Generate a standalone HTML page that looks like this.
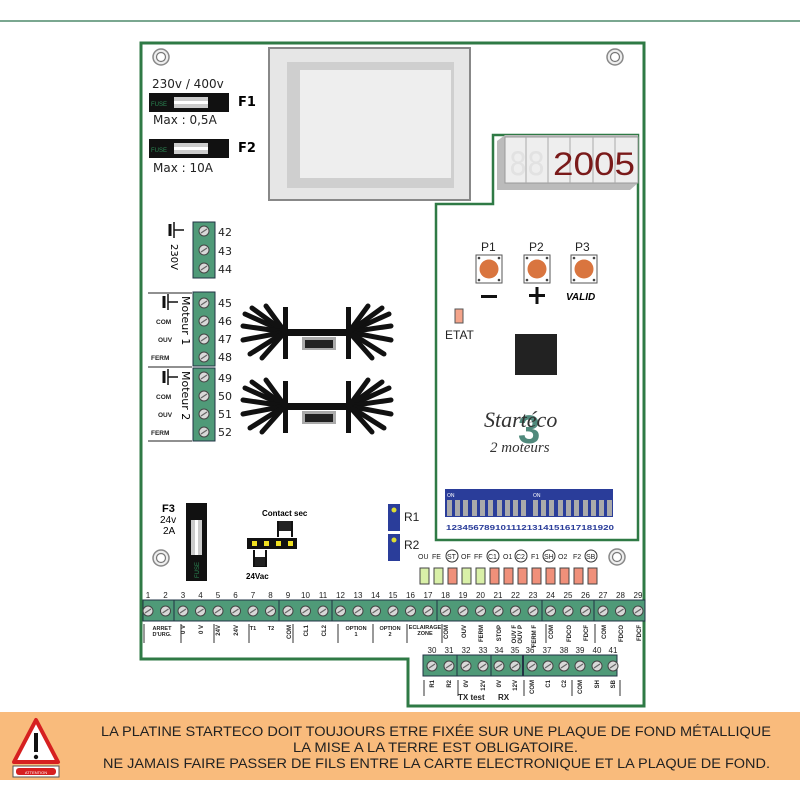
<!DOCTYPE html>
<html><head><meta charset="utf-8"><style>
html,body{margin:0;padding:0;background:#fff}
svg{display:block;font-family:"Liberation Sans",sans-serif}
.m{font-family:"DejaVu Sans",sans-serif}
</style></head><body>
<svg width="800" height="800" viewBox="0 0 800 800" xmlns="http://www.w3.org/2000/svg">
<defs>
<g id="scr"><circle r="5" fill="#d8d8d8" stroke="#444" stroke-width="1"/><line x1="-3" y1="2" x2="3" y2="-2" stroke="#666" stroke-width="1.2"/></g>
<g id="hole"><circle r="8" fill="#eee" stroke="#888" stroke-width="1.5"/><circle r="4.5" fill="#fff" stroke="#777" stroke-width="1.2"/></g>
<g id="btn"><rect x="-13" y="-14" width="26" height="28" fill="#fff" stroke="#555"/><circle cx="-10" cy="-11" r="1.3" fill="#444"/><circle cx="10" cy="-11" r="1.3" fill="#444"/><circle cx="-10" cy="11" r="1.3" fill="#444"/><circle cx="10" cy="11" r="1.3" fill="#444"/><circle r="9.5" fill="#d9753f"/></g>
<g id="hs">
<rect x="283" y="307" width="5" height="52" fill="#111"/><rect x="346" y="307" width="5" height="52" fill="#111"/>
<rect x="285" y="329" width="64" height="7" fill="#111"/>
<g stroke="#111" stroke-width="5" stroke-linecap="round">
<line x1="285" y1="332" x2="245" y2="314"/><line x1="285" y1="332" x2="252" y2="308"/><line x1="285" y1="332" x2="243" y2="326"/><line x1="285" y1="332" x2="243" y2="340"/><line x1="285" y1="332" x2="250" y2="354"/><line x1="285" y1="332" x2="262" y2="358"/><line x1="285" y1="332" x2="266" y2="306"/>
<line x1="349" y1="332" x2="389" y2="314"/><line x1="349" y1="332" x2="382" y2="308"/><line x1="349" y1="332" x2="391" y2="326"/><line x1="349" y1="332" x2="391" y2="340"/><line x1="349" y1="332" x2="384" y2="354"/><line x1="349" y1="332" x2="372" y2="358"/><line x1="349" y1="332" x2="368" y2="306"/>
</g>
<rect x="302" y="337" width="34" height="13" fill="#aaa"/><rect x="305" y="340" width="28" height="8" fill="#222"/>
</g>
<g id="gnd"><line x1="0" y1="-6" x2="0" y2="6" stroke="#111" stroke-width="3"/><line x1="4" y1="-8" x2="4" y2="8" stroke="#111" stroke-width="1.5"/><line x1="4" y1="0" x2="14" y2="0" stroke="#111" stroke-width="1.5"/></g>
</defs>

<line x1="0" y1="21" x2="800" y2="21" stroke="#4e8a6c" stroke-width="1.5"/>

<path d="M141 43 H644 V706 H408 V659 H141 Z" fill="#fff" stroke="#2f7a45" stroke-width="3"/>
<path d="M436 540 V204 H493 V135 H638 V540 Z" fill="#fff" stroke="#2f7a45" stroke-width="2.5"/>

<use href="#hole" x="161" y="57"/><use href="#hole" x="615" y="57"/><use href="#hole" x="161" y="558"/><use href="#hole" x="617" y="557"/>

<text x="152" y="88" font-size="12" class="m" fill="#222">230v / 400v</text>
<rect x="149" y="93" width="80" height="19" fill="#111"/><text x="151" y="106" font-size="6" fill="#2c8a55">FUSE</text><rect x="174" y="97" width="34" height="11" fill="#ccc"/><rect x="174" y="101" width="34" height="3" fill="#fff"/>
<text x="238" y="106" font-size="13" font-weight="bold" class="m">F1</text>
<text x="153" y="124" font-size="12" class="m" fill="#222">Max : 0,5A</text>
<rect x="149" y="139" width="80" height="19" fill="#111"/><text x="151" y="152" font-size="6" fill="#2c8a55">FUSE</text><rect x="174" y="143" width="34" height="11" fill="#ccc"/><rect x="174" y="147" width="34" height="3" fill="#fff"/>
<text x="238" y="152" font-size="13" font-weight="bold" class="m">F2</text>
<text x="153" y="172" font-size="12" class="m" fill="#222">Max : 10A</text>

<rect x="269" y="48" width="201" height="152" fill="#e6e6e6" stroke="#888" stroke-width="2"/>
<rect x="287" y="62" width="167" height="126" fill="#cfcfcf"/>
<rect x="300" y="70" width="151" height="108" fill="#eeeeee"/>

<rect x="193" y="222" width="22" height="56" fill="#4f9a78" stroke="#234" stroke-width="1"/>
<use href="#scr" x="204" y="231"/><use href="#scr" x="204" y="250"/><use href="#scr" x="204" y="268"/>
<g font-size="11" class="m" fill="#222"><text x="218" y="236">42</text><text x="218" y="255">43</text><text x="218" y="273">44</text>
<text x="218" y="307">45</text><text x="218" y="325">46</text><text x="218" y="343">47</text><text x="218" y="361">48</text>
<text x="218" y="382">49</text><text x="218" y="400">50</text><text x="218" y="418">51</text><text x="218" y="436">52</text></g>
<use href="#gnd" x="170" y="230"/>
<text transform="translate(171,244) rotate(90)" font-size="10" class="m">230V</text>
<rect x="193" y="292" width="22" height="74" fill="#4f9a78" stroke="#234"/>
<use href="#scr" x="204" y="303"/><use href="#scr" x="204" y="321"/><use href="#scr" x="204" y="339"/><use href="#scr" x="204" y="357"/>
<rect x="193" y="368" width="22" height="73" fill="#4f9a78" stroke="#234"/>
<use href="#scr" x="204" y="377"/><use href="#scr" x="204" y="396"/><use href="#scr" x="204" y="414"/><use href="#scr" x="204" y="432"/>
<line x1="148" y1="293" x2="192" y2="293" stroke="#222"/><line x1="148" y1="367" x2="192" y2="367" stroke="#222"/><line x1="148" y1="441" x2="192" y2="441" stroke="#222"/>
<use href="#gnd" x="164" y="302"/><use href="#gnd" x="164" y="377"/>
<g font-size="6.5" font-weight="bold" fill="#222"><text x="156" y="324">COM</text><text x="158" y="342">OUV</text><text x="151" y="360">FERM</text>
<text x="156" y="399">COM</text><text x="158" y="417">OUV</text><text x="151" y="435">FERM</text></g>
<text transform="translate(182,296) rotate(90)" font-size="11" class="m">Moteur 1</text>
<text transform="translate(182,371) rotate(90)" font-size="11" class="m">Moteur 2</text>

<use href="#hs"/><use href="#hs" y="74"/>

<polygon points="497,141 505,135 638,135 638,183 630,190 497,190" fill="#bbb"/>
<rect x="505" y="137" width="133" height="46" fill="#eee" stroke="#999"/>
<g stroke="#aaa"><line x1="526" y1="137" x2="526" y2="183"/><line x1="548" y1="137" x2="548" y2="183"/><line x1="570" y1="137" x2="570" y2="183"/><line x1="593" y1="137" x2="593" y2="183"/><line x1="615" y1="137" x2="615" y2="183"/></g>
<text x="509" y="175" font-size="32" fill="#e2e2e2" class="m" textLength="36" lengthAdjust="spacingAndGlyphs">88</text>
<text x="553" y="175" font-size="32" fill="#7a1a1a" font-family="Liberation Sans,sans-serif" textLength="82" lengthAdjust="spacingAndGlyphs">2005</text>

<g font-size="12" fill="#222"><text x="481" y="251">P1</text><text x="529" y="251">P2</text><text x="575" y="251">P3</text></g>
<use href="#btn" x="489" y="269"/><use href="#btn" x="537" y="269"/><use href="#btn" x="584" y="269"/>
<rect x="481" y="295" width="16" height="3" fill="#111"/>
<rect x="529" y="294" width="16" height="3" fill="#111"/><rect x="535.5" y="287" width="3" height="17" fill="#111"/>
<text x="566" y="300" font-size="10" font-weight="bold" font-style="italic">VALID</text>
<rect x="455" y="309" width="8" height="14" fill="#f4a48a" stroke="#555"/>
<text x="445" y="339" font-size="12" fill="#222">ETAT</text>
<rect x="515" y="334" width="42" height="41" fill="#222"/>
<text x="518" y="443" font-size="40" font-weight="bold" fill="#3e7d6e" opacity="0.9">3</text>
<text x="484" y="427" font-size="22" font-style="italic" font-family="Liberation Serif,serif" fill="#333">Startéco</text>
<text x="490" y="452" font-size="15" font-style="italic" font-family="Liberation Serif,serif" fill="#333">2 moteurs</text>

<rect x="445" y="489" width="168" height="28" fill="#2a3d9a"/>
<g fill="#aaa">
<rect x="447" y="500" width="5" height="16"/><rect x="455" y="500" width="5" height="16"/><rect x="463" y="500" width="5" height="16"/><rect x="472" y="500" width="5" height="16"/><rect x="480" y="500" width="5" height="16"/><rect x="488" y="500" width="5" height="16"/><rect x="497" y="500" width="5" height="16"/><rect x="505" y="500" width="5" height="16"/><rect x="513" y="500" width="5" height="16"/><rect x="521" y="500" width="5" height="16"/>
<rect x="533" y="500" width="5" height="16"/><rect x="541" y="500" width="5" height="16"/><rect x="549" y="500" width="5" height="16"/><rect x="558" y="500" width="5" height="16"/><rect x="566" y="500" width="5" height="16"/><rect x="574" y="500" width="5" height="16"/><rect x="583" y="500" width="5" height="16"/><rect x="591" y="500" width="5" height="16"/><rect x="599" y="500" width="5" height="16"/><rect x="607" y="500" width="5" height="16"/></g>
<g fill="#fff" font-size="5"><text x="447" y="497">ON</text><text x="533" y="497">ON</text></g>
<text x="446" y="530" font-size="7" fill="#2a3d9a" font-weight="bold" textLength="168" lengthAdjust="spacingAndGlyphs">1234567891011121314151617181920</text>

<rect x="388" y="504" width="12" height="27" fill="#2a3d9a"/><rect x="388" y="534" width="12" height="27" fill="#2a3d9a"/>
<circle cx="394" cy="510" r="2.5" fill="#dd3"/><circle cx="394" cy="540" r="2.5" fill="#dd3"/>
<text x="404" y="521" font-size="12" fill="#222">R1</text><text x="404" y="549" font-size="12" fill="#222">R2</text>

<g font-size="7" fill="#222"><text x="418" y="559">OU</text><text x="432" y="559">FE</text><text x="447" y="559">ST</text><text x="461" y="559">OF</text><text x="474" y="559">FF</text><text x="488" y="559">C1</text><text x="503" y="559">O1</text><text x="516" y="559">C2</text><text x="531" y="559">F1</text><text x="544" y="559">SH</text><text x="558" y="559">O2</text><text x="573" y="559">F2</text><text x="586" y="559">SB</text></g>
<g fill="none" stroke="#333"><circle cx="452" cy="556" r="6"/><circle cx="493" cy="556" r="6"/><circle cx="521" cy="556" r="6"/><circle cx="549" cy="556" r="6"/><circle cx="591" cy="556" r="6"/></g>
<g stroke="#444">
<rect x="420" y="568" width="9" height="16" fill="#d9f0a8"/><rect x="434" y="568" width="9" height="16" fill="#d9f0a8"/><rect x="448" y="568" width="9" height="16" fill="#f0907a"/><rect x="462" y="568" width="9" height="16" fill="#d9f0a8"/><rect x="476" y="568" width="9" height="16" fill="#d9f0a8"/><rect x="490" y="568" width="9" height="16" fill="#f0907a"/><rect x="504" y="568" width="9" height="16" fill="#f0907a"/><rect x="518" y="568" width="9" height="16" fill="#f0907a"/><rect x="532" y="568" width="9" height="16" fill="#f0907a"/><rect x="546" y="568" width="9" height="16" fill="#f0907a"/><rect x="560" y="568" width="9" height="16" fill="#f0907a"/><rect x="574" y="568" width="9" height="16" fill="#f0907a"/><rect x="588" y="568" width="9" height="16" fill="#f0907a"/></g>

<text x="162" y="512" font-size="11" font-weight="bold">F3</text>
<text x="160" y="523" font-size="10">24v</text><text x="163" y="534" font-size="10">2A</text>
<rect x="186" y="503" width="21" height="78" fill="#111"/><rect x="191" y="520" width="11" height="35" fill="#ccc"/><rect x="195" y="520" width="3" height="35" fill="#fff"/>
<text transform="translate(199,578) rotate(-90)" font-size="6" fill="#2c8a55">FUSE</text>
<text x="262" y="516" font-size="8" font-weight="bold">Contact sec</text>
<rect x="247" y="538" width="50" height="11" fill="#111"/>
<g fill="#f0e020"><rect x="252" y="541" width="5" height="5"/><rect x="264" y="541" width="5" height="5"/><rect x="276" y="541" width="5" height="5"/><rect x="288" y="541" width="5" height="5"/></g>
<path d="M278 537 V522 H292 V537" fill="none" stroke="#111" stroke-width="2"/><rect x="279" y="521" width="12" height="10" fill="#222"/>
<path d="M254 550 V566 H266 V550" fill="none" stroke="#111" stroke-width="2"/><rect x="255" y="557" width="10" height="9" fill="#222"/>
<text x="246" y="579" font-size="8" font-weight="bold">24Vac</text>

<rect x="143" y="600" width="502" height="21" fill="#4f9a78" stroke="#234"/>
<g stroke="#234"><line x1="174" y1="600" x2="174" y2="621"/><line x1="279" y1="600" x2="279" y2="621"/><line x1="332" y1="600" x2="332" y2="621"/><line x1="437" y1="600" x2="437" y2="621"/><line x1="542" y1="600" x2="542" y2="621"/><line x1="594" y1="600" x2="594" y2="621"/></g>
<g>
<use href="#scr" x="148" y="611"/><use href="#scr" x="165.5" y="611"/><use href="#scr" x="183" y="611"/><use href="#scr" x="200.5" y="611"/><use href="#scr" x="218" y="611"/><use href="#scr" x="235.5" y="611"/><use href="#scr" x="253" y="611"/><use href="#scr" x="270.5" y="611"/><use href="#scr" x="288" y="611"/><use href="#scr" x="305.5" y="611"/><use href="#scr" x="323" y="611"/><use href="#scr" x="340.5" y="611"/><use href="#scr" x="358" y="611"/><use href="#scr" x="375.5" y="611"/><use href="#scr" x="393" y="611"/><use href="#scr" x="410.5" y="611"/><use href="#scr" x="428" y="611"/><use href="#scr" x="445.5" y="611"/><use href="#scr" x="463" y="611"/><use href="#scr" x="480.5" y="611"/><use href="#scr" x="498" y="611"/><use href="#scr" x="515.5" y="611"/><use href="#scr" x="533" y="611"/><use href="#scr" x="550.5" y="611"/><use href="#scr" x="568" y="611"/><use href="#scr" x="585.5" y="611"/><use href="#scr" x="603" y="611"/><use href="#scr" x="620.5" y="611"/><use href="#scr" x="638" y="611"/></g>
<g font-size="8" fill="#222" text-anchor="middle">
<text x="148" y="598">1</text><text x="165.5" y="598">2</text><text x="183" y="598">3</text><text x="200.5" y="598">4</text><text x="218" y="598">5</text><text x="235.5" y="598">6</text><text x="253" y="598">7</text><text x="270.5" y="598">8</text><text x="288" y="598">9</text><text x="305.5" y="598">10</text><text x="323" y="598">11</text><text x="340.5" y="598">12</text><text x="358" y="598">13</text><text x="375.5" y="598">14</text><text x="393" y="598">15</text><text x="410.5" y="598">16</text><text x="428" y="598">17</text><text x="445.5" y="598">18</text><text x="463" y="598">19</text><text x="480.5" y="598">20</text><text x="498" y="598">21</text><text x="515.5" y="598">22</text><text x="533" y="598">23</text><text x="550.5" y="598">24</text><text x="568" y="598">25</text><text x="585.5" y="598">26</text><text x="603" y="598">27</text><text x="620.5" y="598">28</text><text x="638" y="598">29</text></g>
<g stroke="#333"><line x1="144" y1="624" x2="144" y2="643"/><line x1="181" y1="624" x2="181" y2="643"/><line x1="214" y1="624" x2="214" y2="643"/><line x1="249" y1="624" x2="249" y2="643"/><line x1="293" y1="624" x2="293" y2="643"/><line x1="338" y1="624" x2="338" y2="643"/><line x1="373" y1="624" x2="373" y2="643"/><line x1="407" y1="624" x2="407" y2="643"/><line x1="442" y1="624" x2="442" y2="643"/><line x1="546" y1="624" x2="546" y2="643"/><line x1="595" y1="624" x2="595" y2="643"/></g>
<g font-size="5.5" font-weight="bold" fill="#222" text-anchor="middle">
<text x="162" y="630">ARRET</text><text x="162" y="636">D'URG.</text>
<text x="253" y="630">T1</text><text x="271" y="630">T2</text>
<text x="356" y="630">OPTION</text><text x="356" y="636">1</text><text x="390" y="630">OPTION</text><text x="390" y="636">2</text>
<text x="425" y="629">ECLAIRAGE</text><text x="425" y="635">ZONE</text></g>
<g font-size="6" font-weight="bold" fill="#222" text-anchor="end">
<text transform="translate(185,625) rotate(-90)">0 V</text><text transform="translate(203,625) rotate(-90)">0 V</text><text transform="translate(220,625) rotate(-90)">24V</text><text transform="translate(238,625) rotate(-90)">24V</text>
<text transform="translate(291,625) rotate(-90)">COM</text><text transform="translate(308,625) rotate(-90)">CL1</text><text transform="translate(326,625) rotate(-90)">CL2</text>
<text transform="translate(448,625) rotate(-90)">COM</text><text transform="translate(466,625) rotate(-90)">OUV</text><text transform="translate(483,625) rotate(-90)">FERM</text><text transform="translate(501,625) rotate(-90)">STOP</text><text transform="translate(516,625) rotate(-90)">OUV F</text><text transform="translate(522,625) rotate(-90)">OUV P</text><text transform="translate(536,625) rotate(-90)">FERM F</text>
<text transform="translate(553,625) rotate(-90)">COM</text><text transform="translate(571,625) rotate(-90)">FDCO</text><text transform="translate(588,625) rotate(-90)">FDCF</text><text transform="translate(606,625) rotate(-90)">COM</text><text transform="translate(623,625) rotate(-90)">FDCO</text><text transform="translate(641,625) rotate(-90)">FDCF</text></g>

<rect x="423" y="655" width="194" height="21" fill="#4f9a78" stroke="#234"/>
<g stroke="#234"><line x1="457" y1="655" x2="457" y2="676"/><line x1="491" y1="655" x2="491" y2="676"/><line x1="523" y1="655" x2="523" y2="676" stroke-width="2"/></g>
<g><use href="#scr" x="432" y="666"/><use href="#scr" x="449" y="666"/><use href="#scr" x="466" y="666"/><use href="#scr" x="483" y="666"/><use href="#scr" x="499" y="666"/><use href="#scr" x="515" y="666"/><use href="#scr" x="532" y="666"/><use href="#scr" x="548" y="666"/><use href="#scr" x="564" y="666"/><use href="#scr" x="580" y="666"/><use href="#scr" x="597" y="666"/><use href="#scr" x="613" y="666"/></g>
<g font-size="8" fill="#222" text-anchor="middle"><text x="432" y="653">30</text><text x="449" y="653">31</text><text x="466" y="653">32</text><text x="483" y="653">33</text><text x="499" y="653">34</text><text x="515" y="653">35</text><text x="530" y="653">36</text><text x="547" y="653">37</text><text x="564" y="653">38</text><text x="580" y="653">39</text><text x="597" y="653">40</text><text x="613" y="653">41</text></g>
<g stroke="#333"><line x1="424" y1="680" x2="424" y2="696"/><line x1="458" y1="680" x2="458" y2="696"/><line x1="524" y1="680" x2="524" y2="696"/><line x1="572" y1="680" x2="572" y2="696"/><line x1="620" y1="680" x2="620" y2="696"/></g>
<g font-size="6" font-weight="bold" fill="#222" text-anchor="end">
<text transform="translate(434,680) rotate(-90)">R1</text><text transform="translate(451,680) rotate(-90)">R2</text><text transform="translate(468,680) rotate(-90)">0V</text><text transform="translate(485,680) rotate(-90)">12V</text><text transform="translate(501,680) rotate(-90)">0V</text><text transform="translate(517,680) rotate(-90)">12V</text>
<text transform="translate(534,680) rotate(-90)">COM</text><text transform="translate(550,680) rotate(-90)">C1</text><text transform="translate(566,680) rotate(-90)">C2</text><text transform="translate(582,680) rotate(-90)">COM</text><text transform="translate(599,680) rotate(-90)">SH</text><text transform="translate(615,680) rotate(-90)">SB</text></g>
<g font-size="8" font-weight="bold" fill="#222"><text x="458" y="700">TX test</text><text x="498" y="700">RX</text></g>

<rect x="0" y="712" width="800" height="68" fill="#f9bb7c"/>
<polygon points="36,720 58,762 14,762" fill="#fff" stroke="#d62020" stroke-width="4" stroke-linejoin="round"/>
<rect x="34" y="733" width="4" height="19" fill="#111"/><circle cx="36" cy="757" r="2.2" fill="#111"/>
<rect x="13" y="766" width="46" height="11" fill="#fff" stroke="#555"/><rect x="16" y="768" width="40" height="7" rx="3" fill="#d62020"/>
<text x="36" y="774" font-size="4" fill="#fff" text-anchor="middle">ATTENTION</text>
<g font-size="13.5" fill="#222">
<text x="101" y="736" textLength="670" lengthAdjust="spacingAndGlyphs">LA  PLATINE STARTECO DOIT TOUJOURS ETRE FIXÉE SUR UNE PLAQUE DE FOND MÉTALLIQUE</text>
<text x="293" y="752" textLength="285" lengthAdjust="spacingAndGlyphs">LA  MISE A LA TERRE EST OBLIGATOIRE.</text>
<text x="103" y="768" textLength="667" lengthAdjust="spacingAndGlyphs">NE JAMAIS FAIRE PASSER DE FILS ENTRE LA CARTE ELECTRONIQUE ET LA PLAQUE DE FOND.</text></g>
</svg>
</body></html>
